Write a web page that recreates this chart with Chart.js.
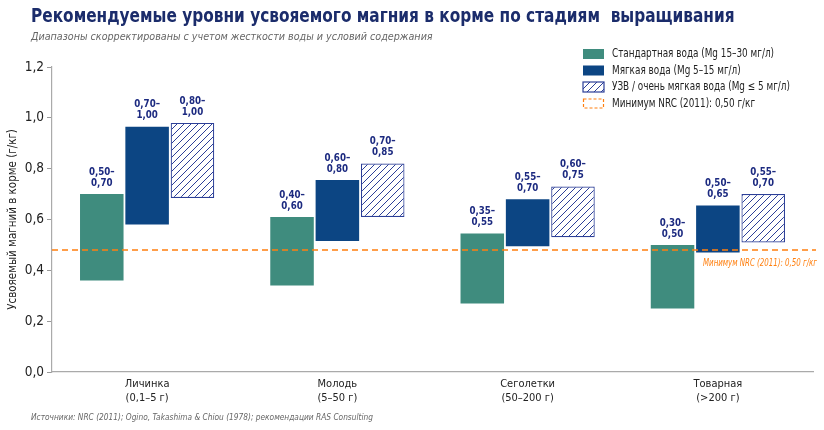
<!DOCTYPE html>
<html lang="ru">
<head>
<meta charset="utf-8">
<script src="https://cdn.jsdelivr.net/npm/chart.js@4.4.1/dist/chart.umd.min.js"></script>
<style>
  body { margin: 0; background: #ffffff; }
  #wrap { position: relative; width: 824px; height: 430px; overflow: hidden; }
  #chart { position: absolute; left: 0; top: 0; }
  .txt { position: absolute; font-family: "DejaVu Sans Condensed", "DejaVu Sans", sans-serif; white-space: nowrap; transform-origin: 0 0; }
  #title { left: 31px; top: 4px; font-size: 19px; font-weight: bold; color: #1b2c6b; }
  #subtitle { left: 31px; top: 30px; font-size: 11px; font-style: italic; color: #666666; }
  #footer { left: 31px; top: 412px; font-size: 9px; font-style: italic; color: #666666; }
</style>
</head>
<body>
<div id="wrap">
  <canvas id="chart" width="824" height="430"></canvas>
  <div class="txt" id="title">Рекомендуемые уровни усвояемого магния в корме по стадиям&nbsp; выращивания</div>
  <div class="txt" id="subtitle">Диапазоны скорректированы с учетом жесткости воды и условий содержания</div>
  <div class="txt" id="footer">Источники: NRC (2011); Ogino, Takashima &amp; Chiou (1978); рекомендации RAS Consulting</div>
</div>
<script>
// данные
const categories = [['Личинка', '(0,1–5 г)'], ['Молодь', '(5–50 г)'], ['Сеголетки', '(50–200 г)'], ['Товарная', '(>200 г)']];
const seriesNames = ['Стандартная вода (Mg 15–30 мг/л)', 'Мягкая вода (Mg 5–15 мг/л)', 'УЗВ / очень мягкая вода (Mg ≤ 5 мг/л)'];
// диапазоны баров так, как они нарисованы
const standardRange = [[0.36, 0.70], [0.34, 0.61], [0.27, 0.545], [0.25, 0.50]];
const softRange = [[0.58, 0.965], [0.515, 0.755], [0.495, 0.68], [0.47, 0.655]];
const rasRange = [[0.685, 0.98], [0.61, 0.82], [0.53, 0.73], [0.51, 0.70]];
// подписи над барами
const standardLabels = [['0,50–', '0,70'], ['0,40–', '0,60'], ['0,35–', '0,55'], ['0,30–', '0,50']];
const softLabels = [['0,70–', '1,00'], ['0,60–', '0,80'], ['0,55–', '0,70'], ['0,50–', '0,65']];
const rasLabels = [['0,80–', '1,00'], ['0,70–', '0,85'], ['0,60–', '0,75'], ['0,55–', '0,70']];
const nrcMin = 0.48;
const nrcLegend = 'Минимум NRC (2011): 0,50 г/кг';
const nrcNote = 'Минимум NRC (2011): 0,50 г/кг';
const yMin = 0, yMax = 1.2, yStep = 0.2;

const GREEN = '#3f8c7e';
const NAVY = '#0c4583';
const HATCH = '#2c3f98';
const ORANGE = '#ff7f0e';
const LABEL = '#1c2a80';
const FONT = '"DejaVu Sans Condensed", "DejaVu Sans", sans-serif';

// сжать html-текст до нужной ширины
function fitWidth(id, w) {
    const el = document.getElementById(id);
    el.style.transform = 'scaleX(' + (w / el.scrollWidth) + ')';
}
fitWidth('title', 704);
fitWidth('subtitle', 402);
fitWidth('footer', 342);

// узкий текст на canvas
function narrowText(ctx, text, x, y, sx) {
    ctx.save();
    ctx.translate(x, y);
    ctx.scale(sx, 1);
    ctx.fillText(text, 0, 0);
    ctx.restore();
}

// штриховка для УЗВ
function makeHatch() {
    const s = 7;
    const c = document.createElement('canvas');
    c.width = s; c.height = s;
    const g = c.getContext('2d');
    g.fillStyle = '#ffffff';
    g.fillRect(0, 0, s, s);
    g.strokeStyle = HATCH;
    g.lineWidth = 1;
    g.beginPath();
    g.moveTo(0, s); g.lineTo(s, 0);
    g.moveTo(-1, 1); g.lineTo(1, -1);
    g.moveTo(s - 1, s + 1); g.lineTo(s + 1, s - 1);
    g.stroke();
    return g.createPattern(c, 'repeat');
}
const hatch = makeHatch();
const allLabels = [standardLabels, softLabels, rasLabels];

// подписи диапазонов над барами
const rangeLabels = {
    id: 'rangeLabels',
    afterDatasetsDraw(chart) {
        const ctx = chart.ctx;
        ctx.save();
        ctx.fillStyle = LABEL;
        ctx.font = 'bold 10.5px ' + FONT;
        ctx.textAlign = 'center';
        ctx.textBaseline = 'middle';
        chart.data.datasets.forEach((ds, i) => {
            chart.getDatasetMeta(i).data.forEach((bar, j) => {
                const top = Math.min(bar.y, bar.base);
                const lines = allLabels[i][j];
                narrowText(ctx, lines[0], bar.x, top - 22, 0.92);
                narrowText(ctx, lines[1], bar.x, top - 11, 0.92);
            });
        });
        ctx.restore();
    }
};

// линия минимума NRC и легенда
const nrcLine = {
    id: 'nrcLine',
    afterDatasetsDraw(chart) {
        const ctx = chart.ctx;
        const area = chart.chartArea;
        const y = chart.scales.y.getPixelForValue(nrcMin);
        ctx.save();
        ctx.strokeStyle = ORANGE;
        ctx.lineWidth = 1.5;
        ctx.setLineDash([6, 4]);
        ctx.beginPath();
        ctx.moveTo(area.left, y);
        ctx.lineTo(area.right + 3, y);
        ctx.stroke();
        ctx.setLineDash([]);
        ctx.fillStyle = ORANGE;
        ctx.font = 'italic 10px ' + FONT;
        ctx.textAlign = 'left';
        ctx.textBaseline = 'middle';
        narrowText(ctx, nrcNote, 703, y + 13, 114 / ctx.measureText(nrcNote).width);

        // легенда
        const lx = 583, ly = 54, dy = 16.5;
        ctx.font = '12px ' + FONT;
        const sx = 162 / ctx.measureText(seriesNames[0]).width;
        const names = seriesNames.concat([nrcLegend]);
        names.forEach((n, k) => {
            const yy = ly + k * dy;
            if (k === 0) { ctx.fillStyle = GREEN; ctx.fillRect(lx, yy - 5, 21, 10); }
            if (k === 1) { ctx.fillStyle = NAVY; ctx.fillRect(lx, yy - 5, 21, 10); }
            if (k === 2) {
                ctx.fillStyle = hatch; ctx.fillRect(lx, yy - 5, 21, 10);
                ctx.strokeStyle = HATCH; ctx.lineWidth = 1.2; ctx.strokeRect(lx, yy - 5, 21, 10);
            }
            if (k === 3) {
                ctx.strokeStyle = ORANGE; ctx.lineWidth = 1.2; ctx.setLineDash([3, 2]);
                ctx.strokeRect(lx + 0.5, yy - 4.5, 20, 9); ctx.setLineDash([]);
            }
            ctx.fillStyle = '#222222';
            narrowText(ctx, n, lx + 29, yy, sx);
        });
        ctx.restore();
    }
};

const ctx = document.getElementById('chart').getContext('2d');
const chart = new Chart(ctx, {
    type: 'bar',
    data: {
        labels: categories,
        datasets: [
            { label: seriesNames[0], data: standardRange, backgroundColor: GREEN, borderWidth: 0 },
            { label: seriesNames[1], data: softRange, backgroundColor: NAVY, borderWidth: 0 },
            { label: seriesNames[2], data: rasRange, backgroundColor: hatch, borderColor: HATCH, borderWidth: 1.2, borderSkipped: false }
        ]
    },
    options: {
        responsive: false,
        animation: false,
        layout: { padding: { top: 67, right: 11, bottom: 20, left: 6 } },
        datasets: { bar: { categoryPercentage: 0.715, barPercentage: 0.96, grouped: true } },
        plugins: { legend: { display: false }, tooltip: { enabled: false } },
        scales: {
            x: {
                grid: { drawOnChartArea: false, drawTicks: false },
                border: { color: '#aaaaaa', width: 1.2 },
                ticks: { color: '#222222', font: { family: FONT, size: 11 }, padding: 6 },
                afterFit(scale) { scale.height = 38; }
            },
            y: {
                min: yMin, max: yMax,
                grid: { drawOnChartArea: false, drawTicks: true, tickLength: 5, color: '#999999' },
                border: { color: '#aaaaaa', width: 1.2 },
                ticks: {
                    stepSize: yStep, color: '#222222', padding: 3,
                    font: { family: FONT, size: 13.5 },
                    callback: v => v.toFixed(1).replace('.', ',')
                },
                title: { display: true, text: 'Усвояемый магний в корме (г/кг)', color: '#222222', font: { family: FONT, size: 11.5 }, padding: 0 },
                afterFit(scale) { scale.width = 46; }
            }
        }
    },
    plugins: [rangeLabels, nrcLine]
});
</script>
</body>
</html>
